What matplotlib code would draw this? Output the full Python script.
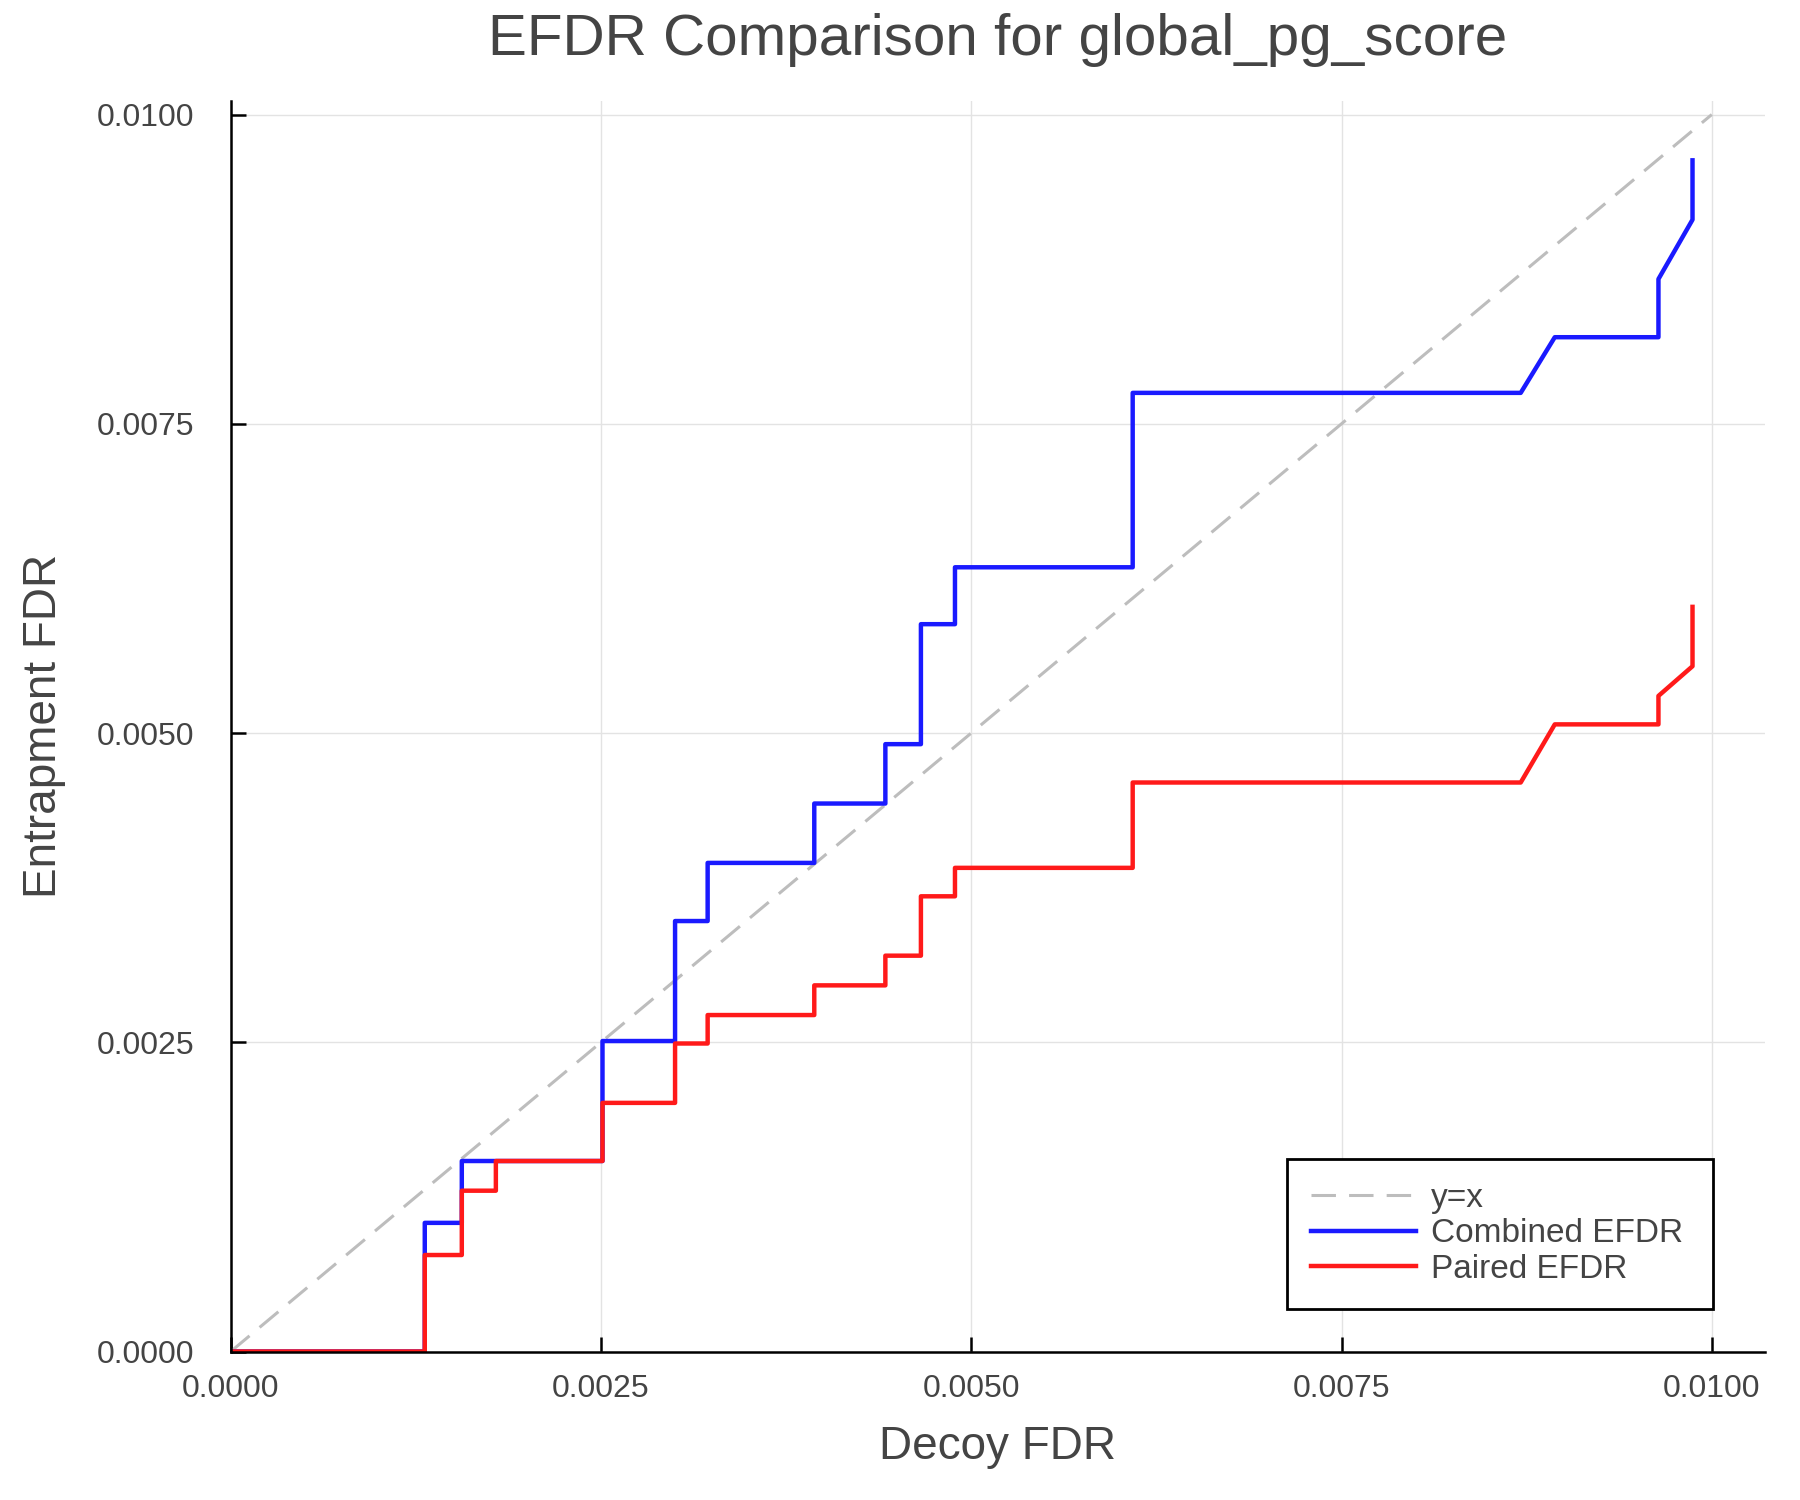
import numpy as np
import matplotlib
matplotlib.use("Agg")
import matplotlib.pyplot as plt
from matplotlib.ticker import FormatStrFormatter

plt.rcParams['font.family'] = ['Liberation Sans', 'DejaVu Sans']

# values
combined_x = [0, 0.00131, 0.00131, 0.00156, 0.00156, 0.00251, 0.00251, 0.00300, 0.00300,
              0.00322, 0.00322, 0.00394, 0.00394, 0.00442, 0.00442, 0.00466, 0.00466,
              0.00489, 0.00489, 0.00609, 0.00609, 0.00871, 0.00894, 0.00964, 0.00964,
              0.00987, 0.00987]
combined_y = [0, 0, 0.00104, 0.00104, 0.00154, 0.00154, 0.00251, 0.00251, 0.00348,
              0.00348, 0.00395, 0.00395, 0.00443, 0.00443, 0.00491, 0.00491, 0.00588,
              0.00588, 0.00634, 0.00634, 0.00775, 0.00775, 0.00820, 0.00820, 0.00867,
              0.00915, 0.00963]

paired_x = [0, 0.00131, 0.00131, 0.00156, 0.00156, 0.00179, 0.00179, 0.00251, 0.00251,
            0.00300, 0.00300, 0.00322, 0.00322, 0.00394, 0.00394, 0.00442, 0.00442,
            0.00466, 0.00466, 0.00489, 0.00489, 0.00609, 0.00609, 0.00871, 0.00894,
            0.00964, 0.00964, 0.00987, 0.00987]
paired_y = [0, 0, 0.00078, 0.00078, 0.00130, 0.00130, 0.00154, 0.00154, 0.00201,
            0.00201, 0.00249, 0.00249, 0.00272, 0.00272, 0.00296, 0.00296, 0.00320,
            0.00320, 0.00368, 0.00368, 0.00391, 0.00391, 0.00460, 0.00460, 0.00507,
            0.00507, 0.00530, 0.00554, 0.00602]

diag = [0, 0.01]
ticks = [0, 0.0025, 0.005, 0.0075, 0.01]

txt = '#444444'

fig = plt.figure(figsize=(18, 15), dpi=100)
ax = fig.add_axes([0.1282, 0.099, 0.9806 - 0.1282, 0.9327 - 0.099])

ax.plot(diag, diag, color='#bdbdbd', lw=2.2, dashes=(8, 4.3), label='y=x')
ax.plot(combined_x, combined_y, color='#1a1aff', lw=3.2, label='Combined EFDR')
ax.plot(paired_x, paired_y, color='#ff1a1a', lw=3.2, label='Paired EFDR')

ax.set_xlim(0, 0.01036)
ax.set_ylim(0, 0.01011)
ax.set_xticks(ticks)
ax.set_yticks(ticks)
ax.xaxis.set_major_formatter(FormatStrFormatter('%.4f'))
ax.yaxis.set_major_formatter(FormatStrFormatter('%.4f'))
ax.grid(True, color='#e3e3e3', lw=1.0)
ax.set_axisbelow(True)

for s in ['top', 'right']:
    ax.spines[s].set_visible(False)
for s in ['left', 'bottom']:
    ax.spines[s].set_linewidth(1.8)
    ax.spines[s].set_color('black')

ax.tick_params(direction='in', length=11, width=1.8, labelsize=23, labelcolor=txt)
ax.tick_params(axis='y', pad=26)
ax.tick_params(axis='x', pad=16)

ax.set_xlabel('Decoy FDR', fontsize=33, color=txt, labelpad=15)
ax.set_ylabel('Entrapment FDR', fontsize=33, color=txt, labelpad=22)
ax.set_title('EFDR Comparison for global_pg_score', fontsize=42, color=txt, pad=33)

leg = ax.legend(loc='lower left', bbox_to_anchor=(0.6885, 0.034, 0.2775, 0.12),
                mode='expand', fontsize=24, frameon=True, fancybox=False,
                handlelength=3.15, handletextpad=0.45, labelspacing=0.14,
                borderpad=0.72, borderaxespad=0)
leg.get_frame().set_edgecolor('black')
leg.get_frame().set_linewidth(2.0)
leg.get_frame().set_alpha(1)
for t in leg.get_texts():
    t.set_color(txt)

fig.savefig('out.png', dpi=100)
